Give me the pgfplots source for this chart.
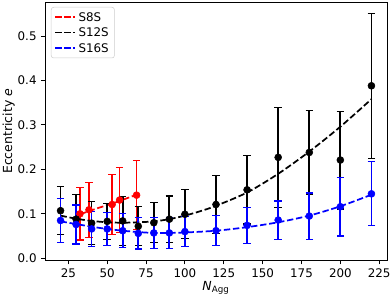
\documentclass[border=0pt]{standalone}
\usepackage{pgfplots}
\usepackage{pgfplotstable}
\pgfplotsset{compat=1.18}
\usepackage{fontspec}
\setmainfont{DejaVu Sans}
\definecolor{cR}{RGB}{255,0,0}
\definecolor{cK}{RGB}{0,0,0}
\definecolor{cB}{RGB}{0,0,255}

\pgfplotstableread{
x y e
32.5 0.100 0.059
38.3 0.109 0.062
53.2 0.121 0.068
58.0 0.131 0.073
68.9 0.142 0.078
}\tabredpts

\pgfplotstableread{
x y e
20 0.107 0.054
30 0.088 0.056
40 0.079 0.048
50 0.083 0.041
60 0.084 0.055
70 0.072 0.044
80 0.080 0.045
90 0.088 0.052
100 0.099 0.055
120 0.121 0.066
140 0.154 0.077
160 0.227 0.112
180 0.238 0.095
200 0.221 0.110
220 0.388 0.163
}\tabblackpts

\pgfplotstableread{
x y e
20 0.085 0.049
30 0.076 0.044
40 0.066 0.040
50 0.066 0.037
60 0.062 0.038
70 0.056 0.035
80 0.057 0.035
90 0.057 0.035
100 0.060 0.034
120 0.062 0.034
140 0.074 0.041
160 0.086 0.043
180 0.095 0.052
200 0.116 0.066
220 0.145 0.072
}\tabbluepts

\pgfplotstableread{
x y
32.5 0.099
38.3 0.106
45.0 0.114
53.2 0.123
58.0 0.129
68.9 0.143
}\tabredfit

\pgfplotstableread{
x y
20 0.096
30 0.089
40 0.084
50 0.081
60 0.080
70 0.081
80 0.083
90 0.088
100 0.096
110 0.106
120 0.118
140 0.148
160 0.190
180 0.240
200 0.296
220 0.358
}\tabblackfit

\pgfplotstableread{
x y
20 0.083
30 0.077
40 0.071
50 0.066
60 0.062
70 0.059
80 0.057
90 0.057
100 0.058
120 0.062
140 0.070
160 0.081
180 0.096
200 0.117
220 0.143
}\tabbluefit

\begin{document}
\begin{tikzpicture}
\begin{axis}[
  scale only axis,
  width=273.6pt, height=206.8pt,
  xmin=10, xmax=230, ymin=-0.005, ymax=0.5765,
  xtick={25,50,75,100,125,150,175,200,225},
  ytick={0,0.1,0.2,0.3,0.4,0.5},
  yticklabel style={/pgf/number format/fixed, /pgf/number format/fixed zerofill, /pgf/number format/precision=1},
  /pgf/number format/assume math mode=true,
  tick align=outside, tick pos=left,
  major tick length=3.2pt,
  every tick/.style={black, line width=0.74pt},
  axis line style={line width=0.74pt},
  tick label style={font=\fontsize{9.5}{11.5}\selectfont},
  label style={font=\fontsize{10}{12}\selectfont},
  xlabel={\textit{N}\textsubscript{Agg}},
  ylabel={Eccentricity \textit{e}},
  xlabel style={at={(axis description cs:0.5,0)}, anchor=north, yshift=-16.4pt, inner sep=0pt},
  ylabel style={at={(axis description cs:-0.0877,0.5)}, anchor=south, inner sep=0pt},
  legend style={at={(axis description cs:0,1)}, anchor=north west, xshift=4.8pt, yshift=-4pt,
    draw=black!20, rounded corners=2pt, fill=white,
    font=\fontsize{9.5}{11.5}\selectfont, inner sep=2.5pt, row sep=1.3pt,
    nodes={inner sep=2pt, text height=6.8pt, text depth=0.2pt}},
  legend cell align=left,
  legend image code/.code={\draw[#1] (0pt,0pt) -- (16pt,0pt);},
  error bars/error bar style={line width=1.38pt, solid},
  error bars/error mark options={rotate=90, mark size=3pt, line width=1pt, solid},
]
\coordinate (SW) at (rel axis cs:0,0);
\coordinate (NE) at (rel axis cs:1,1);

\addlegendimage{draw=cR, line width=1.38pt, dash pattern=on 5.1pt off 2.2pt}
\addlegendentry{S8S}
\addlegendimage{draw=cK, line width=1.38pt, dash pattern=on 5.1pt off 2.2pt}
\addlegendentry{S12S}
\addlegendimage{draw=cB, line width=1.38pt, dash pattern=on 5.1pt off 2.2pt}
\addlegendentry{S16S}

% S8S
\addplot[draw=cR, line width=1.38pt, dash pattern=on 5.1pt off 2.2pt, smooth, forget plot] table[x=x,y=y]{\tabredfit};
\addplot[color=cR, only marks, mark=*, mark size=2.8pt, forget plot,
  error bars/.cd, y dir=both, y explicit] table[x=x, y=y, y error=e]{\tabredpts};

% S12S
\addplot[draw=cK, line width=1.38pt, dash pattern=on 5.1pt off 2.2pt, smooth, forget plot] table[x=x,y=y]{\tabblackfit};
\addplot[color=cK, only marks, mark=*, mark size=2.8pt, forget plot,
  error bars/.cd, y dir=both, y explicit] table[x=x, y=y, y error=e]{\tabblackpts};

% S16S
\addplot[draw=cB, line width=1.38pt, dash pattern=on 5.1pt off 2.2pt, smooth, forget plot] table[x=x,y=y]{\tabbluefit};
\addplot[color=cB, only marks, mark=*, mark size=2.8pt, forget plot,
  error bars/.cd, y dir=both, y explicit] table[x=x, y=y, y error=e]{\tabbluepts};
\end{axis}
\pgfresetboundingbox
\path[use as bounding box] ([xshift=-36pt,yshift=-30pt]SW) rectangle ([xshift=4pt,yshift=1.6pt]NE);
\end{tikzpicture}
\end{document}
